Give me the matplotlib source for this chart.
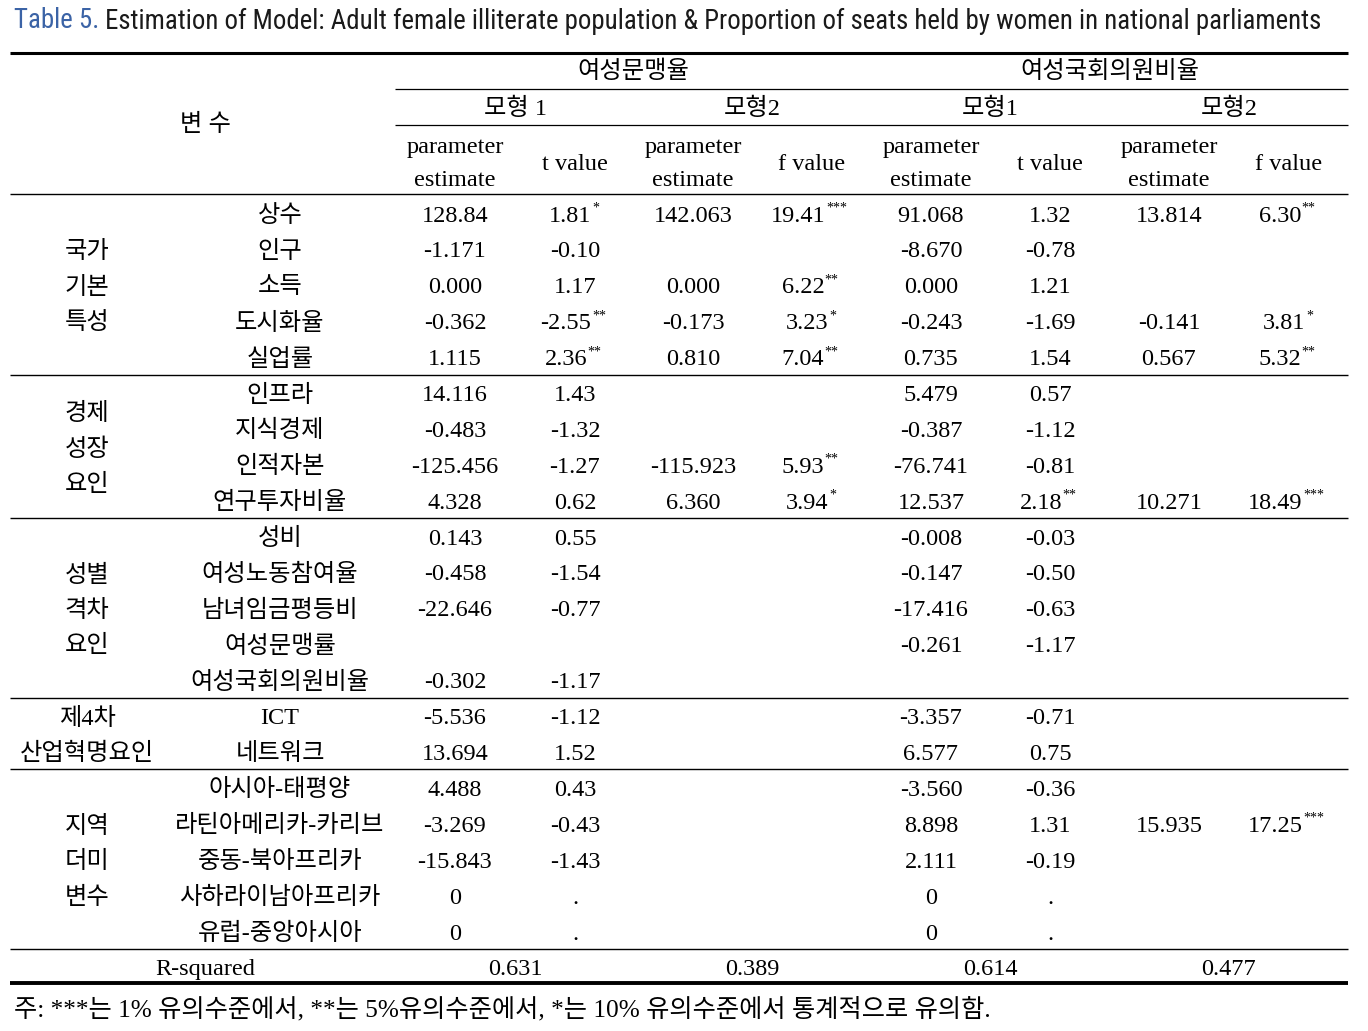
import matplotlib
matplotlib.use('Agg')
import matplotlib.pyplot as plt
from matplotlib import font_manager

KR = 'Noto Sans CJK KR'
SERIF = ['Liberation Serif', KR]
installed = {f.name for f in font_manager.fontManager.ttflist}
TITLE_FONT = 'Liberation Sans'
for cand in ['Liberation Sans Narrow', 'Roboto Condensed', 'Open Sans Condensed',
             'DejaVu Sans Condensed']:
    if cand in installed:
        TITLE_FONT = cand
        break

title_label = 'Table 5.'
title_text = ('Estimation of Model: Adult female illiterate population & '
              'Proportion of seats held by women in national parliaments')

dep_vars = ['여성문맹율', '여성국회의원비율']
models = ['모형 1', '모형2', '모형1', '모형2']
stat_headers = ['t value', 'f value', 't value', 'f value']

group_labels = [['국가', '기본', '특성'],
                ['경제', '성장', '요인'],
                ['성별', '격차', '요인'],
                ['제4차', '산업혁명요인'],
                ['지역', '더미', '변수']]
group_sizes = [5, 4, 5, 2, 5]

variables = ['상수', '인구', '소득', '도시화율', '실업률',
             '인프라', '지식경제', '인적자본', '연구투자비율',
             '성비', '여성노동참여율', '남녀임금평등비', '여성문맹률', '여성국회의원비율',
             'ICT', '네트워크',
             '아시아-태평양', '라틴아메리카-카리브', '중동-북아프리카', '사하라이남아프리카', '유럽-중앙아시아']

# 여성문맹율 - 모형 1
m1_est = ['128.84', '-1.171', '0.000', '-0.362', '1.115',
          '14.116', '-0.483', '-125.456', '4.328',
          '0.143', '-0.458', '-22.646', '', '-0.302',
          '-5.536', '13.694',
          '4.488', '-3.269', '-15.843', '0', '0']
m1_t = ['1.81*', '-0.10', '1.17', '-2.55**', '2.36**',
        '1.43', '-1.32', '-1.27', '0.62',
        '0.55', '-1.54', '-0.77', '', '-1.17',
        '-1.12', '1.52',
        '0.43', '-0.43', '-1.43', '.', '.']
# 여성문맹율 - 모형2
m2_est = ['142.063', '', '0.000', '-0.173', '0.810',
          '', '', '-115.923', '6.360',
          '', '', '', '', '',
          '', '',
          '', '', '', '', '']
m2_f = ['19.41***', '', '6.22**', '3.23*', '7.04**',
        '', '', '5.93**', '3.94*',
        '', '', '', '', '',
        '', '',
        '', '', '', '', '']
# 여성국회의원비율 - 모형1
m3_est = ['91.068', '-8.670', '0.000', '-0.243', '0.735',
          '5.479', '-0.387', '-76.741', '12.537',
          '-0.008', '-0.147', '-17.416', '-0.261', '',
          '-3.357', '6.577',
          '-3.560', '8.898', '2.111', '0', '0']
m3_t = ['1.32', '-0.78', '1.21', '-1.69', '1.54',
        '0.57', '-1.12', '-0.81', '2.18**',
        '-0.03', '-0.50', '-0.63', '-1.17', '',
        '-0.71', '0.75',
        '-0.36', '1.31', '-0.19', '.', '.']
# 여성국회의원비율 - 모형2
m4_est = ['13.814', '', '', '-0.141', '0.567',
          '', '', '', '10.271',
          '', '', '', '', '',
          '', '',
          '', '15.935', '', '', '']
m4_f = ['6.30**', '', '', '3.81*', '5.32**',
        '', '', '', '18.49***',
        '', '', '', '', '',
        '', '',
        '', '17.25***', '', '', '']

r_squared = ['0.631', '0.389', '0.614', '0.477']

footnote = '주: ***는 1% 유의수준에서, **는 5%유의수준에서, *는 10% 유의수준에서 통계적으로 유의함.'

# ---- layout ----
W, H = 1368, 1031
FS = 17.5
DY = 3  # text sits a bit low in its row
LEFT, RIGHT = 10, 1348
col_x = [455, 575, 693, 812, 931, 1050, 1169, 1289]
group_x = 87
var_x = 280
row_y0, row_step = 213, 35.9
header_top, header_bot = 53, 194

fig = plt.figure(figsize=(W / 100, H / 100), dpi=100)
ax = fig.add_axes([0, 0, 1, 1])
ax.set_xlim(0, W)
ax.set_ylim(H, 0)
ax.axis('off')


def txt(x, y, s, **kw):
    kw.setdefault('fontsize', FS)
    kw.setdefault('family', SERIF)
    kw.setdefault('ha', 'center')
    kw.setdefault('va', 'center')
    return ax.text(x, y + DY, s, **kw)


def value(x, y, s):
    if not s:
        return
    stars = len(s) - len(s.rstrip('*'))
    num = s.rstrip('*')
    t = txt(x - 4.5 * stars, y, num)
    if stars:
        ax.annotate('*' * stars, xy=(1, 0.5), xycoords=t, xytext=(0.3, 3.2),
                    textcoords='offset points', ha='left', va='baseline',
                    fontsize=10, family=SERIF)


def hline(y, x0=LEFT, x1=RIGHT, lw=1.0):
    ax.plot([x0, x1], [y, y], color='black', lw=lw, solid_capstyle='butt')


# title
tl = ax.text(14, 21, title_label, fontsize=20, family=TITLE_FONT, color='#3b63a6',
             ha='left', va='center')
tr = ax.annotate(' ' + title_text, xy=(1, 0.5), xycoords=tl, ha='left', va='center',
                 fontsize=20, family=TITLE_FONT, color='#1a1a1a')
fig.canvas.draw()
r = fig.canvas.get_renderer()
total = tr.get_window_extent(r).x1 - tl.get_window_extent(r).x0
scale = (1322 - 14) / total
tl.set_fontsize(20 * scale)
tr.set_fontsize(20 * scale)

# rules
hline(header_top, lw=2.2)
hline(89, 395, RIGHT, lw=0.9)
hline(125, 395, RIGHT, lw=0.9)
hline(header_bot, lw=1.0)

# header
txt(205, 122, '변 수')
txt((col_x[0] + col_x[3]) / 2, 69, dep_vars[0])
txt((col_x[4] + col_x[7]) / 2, 69, dep_vars[1])
for i, m in enumerate(models):
    txt((col_x[2 * i] + col_x[2 * i + 1]) / 2, 106, m)
    txt(col_x[2 * i], 144, 'parameter')
    txt(col_x[2 * i], 178, 'estimate')
    txt(col_x[2 * i + 1], 161, stat_headers[i])

# body
columns = [m1_est, m1_t, m2_est, m2_f, m3_est, m3_t, m4_est, m4_f]
for i, var in enumerate(variables):
    y = row_y0 + i * row_step
    txt(var_x, y, var)
    for cx, col in zip(col_x, columns):
        value(cx, y, col[i])

start = 0
for labels, n in zip(group_labels, group_sizes):
    ys = [row_y0 + (start + k) * row_step for k in range(n)]
    center = sum(ys) / n
    for k, lab in enumerate(labels):
        txt(group_x, center + (k - (len(labels) - 1) / 2) * row_step * 0.985, lab)
    start += n
    hline(row_y0 + (start - 0.5) * row_step, lw=1.0)

# R-squared row
y = row_y0 + len(variables) * row_step
txt(205, y, 'R-squared')
for i, v in enumerate(r_squared):
    txt((col_x[2 * i] + col_x[2 * i + 1]) / 2, y, v)
hline(983, lw=2.8)

fn = txt(14, 1006, footnote, ha='left')
fig.canvas.draw()
w = fn.get_window_extent(fig.canvas.get_renderer()).width
fn.set_fontsize(FS * min(1.05, (990 - 14) / w))

fig.savefig('out.png', dpi=100)
